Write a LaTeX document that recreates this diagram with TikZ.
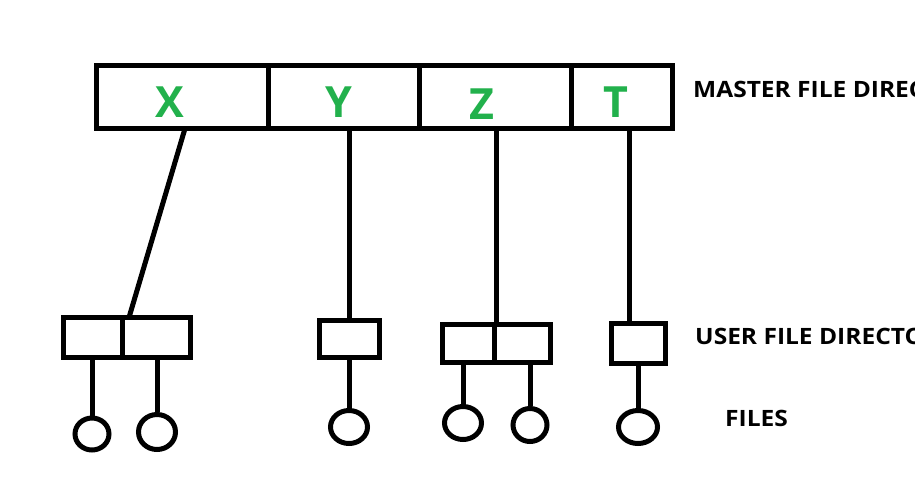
\documentclass[tikz,border=0pt]{standalone}
\usepackage{fontspec}
\usetikzlibrary{shapes.geometric}
\newfontfamily\labfont{Open Sans}
\newfontfamily\widefont{Open Sans}[FakeStretch=1.09]
\definecolor{paintgreen}{RGB}{34,177,76}
\begin{document}
\begin{tikzpicture}[x=1pt,y=-1pt,
  cell/.style={draw,line width=5pt,rectangle,inner sep=0pt,minimum width=#1,minimum height=63pt},
  ubox/.style={draw,line width=5pt,rectangle,inner sep=0pt},
  fcirc/.style={draw,line width=5pt,ellipse,inner sep=0pt},
  letter/.style={text=paintgreen,font=\labfont\bfseries\fontsize{43}{43}\selectfont,inner sep=0pt,anchor=base},
  lab/.style={font=\widefont\bfseries\fontsize{22.5}{22.5}\selectfont,inner sep=0pt,anchor=base west},
  conn/.style={line width=5pt}]
\useasboundingbox (0,0) rectangle (915,480);
\fill[white] (0,0) rectangle (915,480);
% master file directory
\node[cell=171.5pt] (mX) at (182.25,97) {};
\node[cell=151pt] (mY) at (343.5,97) {};
\node[cell=152pt] (mZ) at (495,97) {};
\node[cell=101.5pt] (mT) at (621.75,97) {};
\node[letter] (lX) at (170,117) {X};
\node[letter] (lY) at (338.5,117) {Y};
\node[letter] (lZ) at (482,119) {Z};
\node[letter] (lT) at (616,117) {T};
% user file directories
\node[ubox,minimum width=58.5pt,minimum height=40pt] (u1a) at (92.75,337.5) {};
\node[ubox,minimum width=68.5pt,minimum height=40pt] (u1b) at (156.25,337.5) {};
\node[ubox,minimum width=60pt,minimum height=37pt] (u2) at (349.5,339) {};
\node[ubox,minimum width=51.5pt,minimum height=38pt] (u3a) at (468.25,343.5) {};
\node[ubox,minimum width=56.5pt,minimum height=38pt] (u3b) at (522.25,343.5) {};
\node[ubox,minimum width=54pt,minimum height=40pt] (u4) at (638.5,343.5) {};
% files
\node[fcirc,minimum width=34pt,minimum height=32pt] (f1) at (92,434) {};
\node[fcirc,minimum width=37pt,minimum height=35pt] (f2) at (157,432) {};
\node[fcirc,minimum width=37pt,minimum height=33pt] (f3) at (349,427) {};
\node[fcirc,minimum width=37pt,minimum height=33pt] (f4) at (463,423) {};
\node[fcirc,minimum width=34pt,minimum height=33pt] (f5) at (530,425) {};
\node[fcirc,minimum width=39pt,minimum height=33pt] (f6) at (638,427) {};
% connectors master -> user
\coordinate (xa) at (185,128.5);
\coordinate (xb) at (129,317.5);
\draw[conn] (xa) -- (xb);
\draw[conn] (mY.south -| u2.north) -- (u2.north);
\draw[conn] (mZ.south -| u3a.north east) -- (u3a.north east);
\coordinate (tb) at (629,323.5);
\draw[conn] (mT.south -| tb) -- (tb);
% connectors user -> files
\draw[conn] (f1.north |- u1a.south) -- (f1.north);
\draw[conn] (f2.north |- u1b.south) -- (f2.north);
\draw[conn] (f3.north |- u2.south) -- (f3.north);
\draw[conn] (f4.north |- u3a.south) -- (f4.north);
\draw[conn] (f5.north |- u3b.south) -- (f5.north);
\draw[conn] (f6.north |- u4.south) -- (f6.north);
% labels (cut off at the right edge, as in the reference)
\node[lab] (tm) at (693,97) {MASTER FILE DIRECTORY};
\node[lab] (tu) at (695,344) {USER FILE DIRECTORY};
\node[lab] (tf) at (725,426) {FILES};
\end{tikzpicture}
\end{document}
